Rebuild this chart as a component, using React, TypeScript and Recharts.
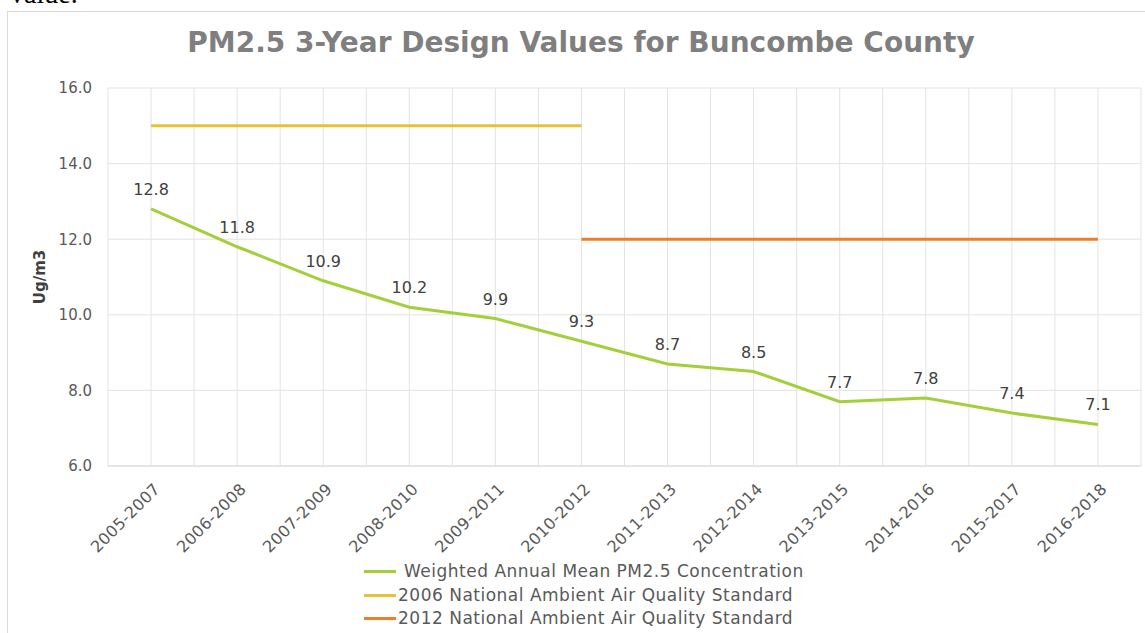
import React from 'react';
import { LineChart, Line, XAxis, YAxis, CartesianGrid, Legend, LabelList } from 'recharts';

const categories = [
  '2005-2007', '2006-2008', '2007-2009', '2008-2010', '2009-2011', '2010-2012',
  '2011-2013', '2012-2014', '2013-2015', '2014-2016', '2015-2017', '2016-2018',
];
const weightedMean = [12.8, 11.8, 10.9, 10.2, 9.9, 9.3, 8.7, 8.5, 7.7, 7.8, 7.4, 7.1];
const standard2006 = [15, 15, 15, 15, 15, 15, null, null, null, null, null, null];
const standard2012 = [null, null, null, null, null, 12, 12, 12, 12, 12, 12, 12];
const yTicks = [6, 8, 10, 12, 14, 16];
const legendOrder = ['pm', 's2006', 's2012'];
// gridlines sit at every half category, labels only on whole ones
const xTicks = Array.from({ length: categories.length * 2 + 1 }, (_, i) => i / 2 - 0.5);

const data = categories.map((c, i) => ({
  idx: i,
  name: c,
  pm: weightedMean[i],
  s2006: standard2006[i],
  s2012: standard2012[i],
}));

const FONT = '"DejaVu Sans", sans-serif';

const XTick = (props: any) => {
  const { x, y, payload } = props;
  const v = payload.value;
  if (!Number.isInteger(v)) return null;
  return (
    <text
      transform={`translate(${x + 6},${y + 12}) rotate(-45)`}
      textAnchor="end"
      dy="0.35em"
      fontSize={16}
      letterSpacing={0.3}
      fill="#595959"
      fontFamily={FONT}
    >
      {categories[v]}
    </text>
  );
};

const LegendContent = (props: any) => {
  const items = [...(props.payload || [])].sort(
    (a: any, b: any) => legendOrder.indexOf(a.dataKey) - legendOrder.indexOf(b.dataKey)
  );
  return (
    <div style={{ fontFamily: FONT, fontSize: 17, letterSpacing: 0.5, color: '#595959', lineHeight: '23.5px' }}>
      {items.map((p: any) => (
        <div key={p.value} style={{ display: 'flex', alignItems: 'center' }}>
          <span style={{ display: 'inline-block', width: 32, height: 3, background: p.color, marginRight: p.dataKey === 'pm' ? 8 : 2 }} />
          <span>{p.value}</span>
        </div>
      ))}
    </div>
  );
};

export default function App() {
  return (
    <div style={{ position: 'fixed', left: 0, top: 0, width: 1145, height: 633, overflow: 'hidden', background: '#fff' }}>
      <div style={{ position: 'absolute', left: 10, top: -22, fontFamily: '"Liberation Serif", serif', fontSize: 28, color: '#000' }}>
        value.
      </div>
      <div style={{ position: 'absolute', left: 7, top: 11, width: 1150, height: 640, border: '1px solid #d9d9d9' }} />
      <div style={{ position: 'absolute', left: 8, top: 26, width: 1146, textAlign: 'center', fontFamily: FONT, fontWeight: 'bold', fontSize: 28, color: '#7f7f7f' }}>
        PM2.5 3-Year Design Values for Buncombe County
      </div>
      <div style={{ position: 'absolute', left: 0, top: 0 }}>
        <LineChart width={1145} height={633} data={data} margin={{ top: 88, right: 4, left: 30, bottom: 77 }}>
          <CartesianGrid stroke="#e3e3e3" strokeWidth={1} />
          <XAxis
            dataKey="idx"
            type="number"
            domain={[-0.5, 11.5]}
            ticks={xTicks}
            interval={0}
            height={90}
            tickLine={false}
            axisLine={{ stroke: '#d9d9d9' }}
            tick={<XTick />}
          />
          <YAxis
            domain={[6, 16]}
            ticks={yTicks}
            width={78}
            tickLine={false}
            axisLine={false}
            tickMargin={10}
            tickFormatter={(v: number) => v.toFixed(1)}
            tick={{ fontSize: 15, fill: '#595959', fontFamily: FONT }}
            label={{
              content: (p: any) => (
                <text
                  transform={`translate(${p.viewBox.x + 10},${p.viewBox.y + p.viewBox.height / 2}) rotate(-90)`}
                  textAnchor="middle"
                  dy="0.35em"
                  fontSize={15}
                  fontWeight="bold"
                  fill="#404040"
                  fontFamily={FONT}
                >
                  Ug/m3
                </text>
              ),
            }}
          />
          <Line
            dataKey="pm"
            name="Weighted Annual Mean PM2.5 Concentration"
            type="linear"
            stroke="#a3cf3a"
            strokeWidth={3}
            dot={false}
            isAnimationActive={false}
          >
            <LabelList
              dataKey="pm"
              position="top"
              offset={14}
              formatter={(v: any) => Number(v).toFixed(1)}
              style={{ fontSize: 16, fill: '#404040', fontFamily: FONT }}
            />
          </Line>
          <Line
            dataKey="s2006"
            name="2006 National Ambient Air Quality Standard"
            stroke="#e8c13a"
            strokeWidth={3}
            dot={false}
            isAnimationActive={false}
          />
          <Line
            dataKey="s2012"
            name="2012 National Ambient Air Quality Standard"
            stroke="#f07d2b"
            strokeWidth={3}
            dot={false}
            isAnimationActive={false}
          />
          <Legend
            layout="horizontal"
            verticalAlign="middle"
            align="center"
            content={<LegendContent />}
            wrapperStyle={{ position: 'absolute', left: 364, top: 560, width: 480, height: 72 }}
          />
        </LineChart>
      </div>
    </div>
  );
}
